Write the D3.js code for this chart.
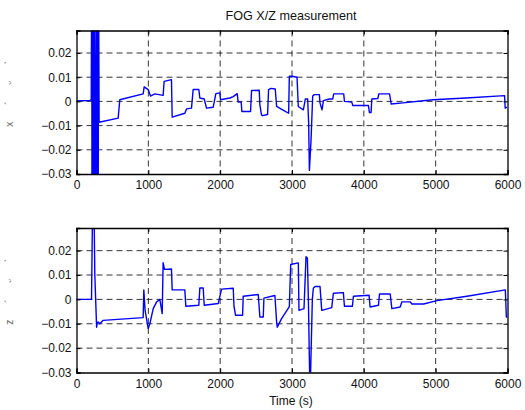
<!DOCTYPE html>
<html>
<head>
<meta charset="utf-8">
<script src="https://cdn.jsdelivr.net/npm/d3@7"></script>
<style>
  html, body { margin: 0; padding: 0; background: #fff; }
  svg { display: block; font-family: "Liberation Sans", Arial, sans-serif; }
</style>
</head>
<body>
<svg id="chart" width="525" height="410"></svg>
<script>
// ---- data ----
const title = "FOG X/Z measurement";
const xAxisLabel = "Time (s)";
const xTicks = [0, 1000, 2000, 3000, 4000, 5000, 6000];
const yTicks = [-0.03, -0.02, -0.01, 0, 0.01, 0.02];
const yLabelTop = "x ´ ᵕ `";
const yLabelBottom = "z ´ ᵕ `";

const xTime = [0, 186, 205, 212, 216, 220, 224, 228, 232, 236, 240, 244, 248, 252, 266, 282, 286, 290, 294, 298, 302, 306,
  315, 580, 603, 928, 942, 998, 1030, 1090, 1206, 1220, 1322, 1332, 1508, 1532, 1601, 1624, 1703, 1717, 1778, 1810, 1903,
  1940, 1996, 2005, 2135, 2182, 2237, 2251, 2293, 2302, 2423, 2437, 2544, 2553, 2575, 2590, 2660, 2674, 2707, 2767, 2786,
  2870, 2953, 2963, 3000, 3070, 3088, 3158, 3186, 3218, 3232, 3242, 3265, 3288, 3311, 3381, 3390, 3418, 3437, 3521, 3567,
  3581, 3720, 3730, 3832, 3846, 4064, 4078, 4101, 4111, 4195, 4209, 4358, 4381, 4543, 4961, 5425, 5959, 5968, 5992];
const xVals = [0.0002, 0.0004, 0.0006, 0.06, -0.06, 0.06, -0.06, 0.06, -0.06, 0.06, -0.06, 0.06, -0.06, 0.06, -0.06, 0.06, -0.06, 0.06, -0.06, 0.06, -0.06, 0.06,
  -0.0086, -0.0069, 0.0007, 0.0031, 0.0060, 0.0049, 0.0022, 0.0031, 0.0025, 0.0083, 0.0090, -0.0065, -0.0049, -0.0031, -0.0028, 0.0049, 0.0049, 0.0014, 0.0010, -0.0028, -0.0024,
  0.0032, 0.0035, 0.0007, 0.0014, 0.0020, 0.0032, -0.0003, -0.0003, -0.0042, -0.0042, 0.0045, 0.0046, -0.0014, -0.0056, -0.0059, -0.0054, 0.0049, 0.0054, 0.0051, -0.0021,
  -0.0035, -0.0049, 0.0104, 0.0104, 0.0100, -0.0021, -0.0035, 0.0010, 0.0010, -0.0090, -0.0285, -0.0160, 0.0022, 0.0028, 0.0028, -0.0007, -0.0035, 0.0003, 0.0010, 0.0010,
  0.0031, 0.0031, 0.0000, -0.0003, -0.0017, -0.0017, -0.0046, -0.0046, 0.0010, 0.0012, 0.0031, 0.0031, -0.0011, -0.0006, 0.0007, 0.0014, 0.0024, -0.0028, -0.0024];

const zTime = [0, 209, 222, 246, 255, 280, 290, 302, 325, 371, 928, 937, 955, 998, 1021, 1068, 1114, 1160, 1193, 1206, 1225,
  1322, 1332, 1508, 1522, 1703, 1717, 1764, 1778, 1973, 2019, 2182, 2192, 2214, 2312, 2321, 2530, 2553, 2600, 2609, 2762,
  2786, 2795, 2855, 2963, 2982, 3088, 3097, 3167, 3195, 3214, 3228, 3251, 3283, 3297, 3320, 3390, 3414, 3553, 3576, 3715,
  3730, 3841, 3855, 4073, 4087, 4204, 4218, 4367, 4390, 4506, 4530, 4646, 4669, 4832, 5018, 5436, 5970, 5984, 6000];
const zVals = [0, 0, 0.033, 0.033, 0.0101, -0.0114, -0.0095, -0.0093, -0.0100, -0.0086, -0.0075, 0.0039, -0.0045, -0.0120, -0.0100, -0.0038, -0.0011, 0.0000, -0.0058, 0.0151, 0.0123,
  0.0125, 0.0039, 0.0039, -0.0028, -0.0024, 0.0047, 0.0047, -0.0024, -0.0017, 0.0042, 0.0046, -0.0028, -0.0065, -0.0065, 0.0013, 0.0020, -0.0072, -0.0072, 0.0005, 0.0016,
  -0.0093, -0.0114, -0.0079, -0.0030, 0.0143, 0.0150, -0.0045, -0.0038, 0.0175, 0.0170, -0.0001, -0.0400, -0.0001, 0.0046, 0.0053, 0.0053, -0.0045, -0.0034, 0.0025, 0.0028,
  -0.0028, -0.0028, 0.0013, 0.0017, -0.0031, -0.0024, 0.0022, 0.0022, -0.0038, -0.0031, -0.0010, -0.0010, -0.0019, -0.0019, -0.0005, 0.0013, 0.0039, -0.0072, -0.0072];

// ---- layout ----
const svg = d3.select("#chart");
const left = 76.5, right = 507.5;
const panels = [
  { top: 30.5, bottom: 174, t: xTime, v: xVals, label: yLabelTop, id: "clipTop" },
  { top: 228, bottom: 372.5, t: zTime, v: zVals, label: yLabelBottom, id: "clipBot" }
];
const yDomain = [-0.03, 0.0293];
const x = d3.scaleLinear().domain([0, 6000]).range([left, right]);
const FONT = "'Liberation Sans', Arial, sans-serif";

svg.append("text").attr("x", 291).attr("y", 19.5).attr("text-anchor", "middle")
  .attr("font-size", 12.6).attr("fill", "#111").text(title);

panels.forEach(p => {
  const y = d3.scaleLinear().domain(yDomain).range([p.bottom, p.top]);
  const g = svg.append("g");

  g.append("clipPath").attr("id", p.id).append("rect")
    .attr("x", left).attr("y", p.top).attr("width", right - left).attr("height", p.bottom - p.top);

  // grid
  g.selectAll(".vg").data(xTicks.slice(1, -1)).join("line")
    .attr("x1", d => x(d)).attr("x2", d => x(d)).attr("y1", p.top).attr("y2", p.bottom)
    .attr("stroke", "#000").attr("stroke-width", 0.8).attr("stroke-dasharray", "6,4");
  g.selectAll(".hg").data(yTicks.slice(1)).join("line")
    .attr("x1", left).attr("x2", right).attr("y1", d => y(d)).attr("y2", d => y(d))
    .attr("stroke", "#000").attr("stroke-width", 0.8).attr("stroke-dasharray", "6,4");

  // data line
  const pts = p.t.map((t, i) => [t, p.v[i]]);
  g.append("path").datum(pts)
    .attr("clip-path", `url(#${p.id})`)
    .attr("fill", "none").attr("stroke", "#0000ff").attr("stroke-width", 1.4)
    .attr("stroke-linejoin", "round")
    .attr("d", d3.line().x(d => x(d[0])).y(d => y(d[1])));

  // axes
  const yAxisL = d3.axisLeft(y).tickValues(yTicks).tickSize(-4).tickPadding(5)
    .tickFormat(d => d === 0 ? "0" : d3.format(".2f")(d));
  const yAxisR = d3.axisRight(y).tickValues(yTicks).tickSize(-4).tickFormat("");
  const xAxisB = d3.axisBottom(x).tickValues(xTicks).tickSize(-4).tickPadding(5).tickFormat(d3.format("d"));
  const xAxisT = d3.axisTop(x).tickValues(xTicks).tickSize(-4).tickFormat("");

  const gl = g.append("g").attr("transform", `translate(${left},0)`).call(yAxisL);
  const gr = g.append("g").attr("transform", `translate(${right},0)`).call(yAxisR);
  const gb = g.append("g").attr("transform", `translate(0,${p.bottom})`).call(xAxisB);
  const gt = g.append("g").attr("transform", `translate(0,${p.top})`).call(xAxisT);
  [gl, gr, gb, gt].forEach(a => {
    a.select(".domain").attr("stroke", "#000").attr("stroke-width", 1.3);
    a.selectAll(".tick line").attr("stroke", "#000");
    a.selectAll("text").attr("font-size", 12).attr("fill", "#111").attr("font-family", FONT);
  });
  gb.selectAll("text").attr("dy", "0.85em");

  // y label
  svg.append("text")
    .attr("transform", `translate(13,${(p.top + p.bottom) / 2 - 12}) rotate(-90)`)
    .attr("text-anchor", "middle").attr("font-size", 10).attr("fill", "#666")
    .attr("letter-spacing", 7)
    .text(p.label);
});

svg.append("text").attr("x", 291).attr("y", 405).attr("text-anchor", "middle")
  .attr("font-size", 12).attr("fill", "#111").text(xAxisLabel);
</script>
</body>
</html>
